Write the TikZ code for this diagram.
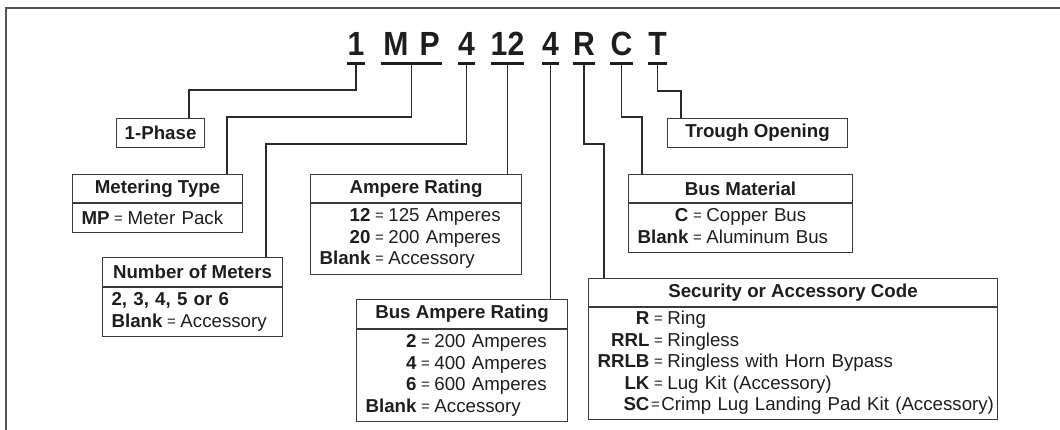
\documentclass[tikz,border=0pt]{standalone}
\usepackage{fontspec}
\setmainfont{Liberation Sans}
\usetikzlibrary{calc}
\definecolor{txt}{HTML}{1E1E1E}
\definecolor{boxc}{HTML}{3A3A3A}
\definecolor{linec}{HTML}{2A2A2A}
\definecolor{framec}{HTML}{555555}
\tikzset{
  hdr/.style={draw=boxc, line width=1.1pt, text=txt, inner sep=0pt, anchor=north west, align=center,
    font=\fontsize{18.7}{21.5}\selectfont\bfseries},
  bdy/.style={draw=boxc, line width=1.1pt, text=txt, inner xsep=9pt, inner ysep=0pt, anchor=north west, align=left,
    font=\fontsize{18.7}{21.5}\selectfont},
  ttl/.style={inner sep=0pt, text height=24pt, text depth=7pt, anchor=south, text=txt,
    font=\fontsize{33.5}{33.5}\selectfont\bfseries},
  ul/.style={line width=3pt, draw=txt},
  conn/.style={line width=1.1pt, draw=linec},
  frameline/.style={line width=1.4pt, draw=framec}
}
\newcommand{\ttxt}[1]{\scalebox{0.9}[1]{#1}}
\newcommand{\smeq}{\raisebox{1.2pt}{\fontsize{15}{15}\selectfont=}}
\newcommand{\eq}{\hspace{4.6pt}\smeq\hspace{4.6pt}}
\newcommand{\eqt}{\hspace{1.6pt}\smeq\hspace{1.6pt}}
\begin{document}
\begin{tikzpicture}[x=1pt,y=-1pt]
\clip (0,0) rectangle (1060,429);
\draw[frameline] (6,440) -- (6,8) -- (1070,8);

% title characters
\node[ttl, minimum width=18pt] (t1) at (356,63) {\ttxt{1}};
\node[ttl, minimum width=61pt] (tMP) at (411.5,63) {\ttxt{M\kern3pt\ P}};
\node[ttl, minimum width=17pt] (t4) at (466.5,63) {\ttxt{4}};
\node[ttl, minimum width=33pt] (t12) at (507.5,63) {\ttxt{12}};
\node[ttl, minimum width=17pt] (t4b) at (550.5,63) {\ttxt{4}};
\node[ttl, minimum width=22pt] (tR) at (584,63) {\ttxt{R}};
\node[ttl, minimum width=21pt] (tC) at (621.5,63) {\ttxt{C}};
\node[ttl, minimum width=19pt] (tT) at (657.5,63) {\ttxt{T}};
\foreach \n in {t1,tMP,t4,t12,t4b,tR,tC,tT}
  \draw[ul] (\n.south west) -- (\n.south east);

% boxes
\node[hdr, minimum width=88pt, minimum height=29pt] (oneph) at (116,118) {1-Phase};

\node[hdr, minimum width=170pt, minimum height=28pt] (mtH) at (72,174) {Metering Type};
\node[bdy, minimum width=170pt, text width=152pt, minimum height=29pt] (mtB) at (mtH.south west)
  {\textbf{MP}\eq Meter Pack};

\node[hdr, minimum width=180pt, minimum height=29pt] (nmH) at (102,257) {Number of Meters};
\node[bdy, minimum width=180pt, text width=162pt, minimum height=49pt] (nmB) at (nmH.south west)
  {\textbf{2, 3, 4, 5 or 6}\\\textbf{Blank}\eq Accessory};

\node[hdr, minimum width=211pt, minimum height=28pt] (arH) at (310,174) {Ampere Rating};
\node[bdy, minimum width=211pt, text width=193pt, minimum height=71pt] (arB) at (arH.south west)
  {\begin{tabular}{@{}r@{}l@{}}\textbf{12} & \eq 125 Amperes\\\textbf{20} & \eq 200 Amperes\\\textbf{Blank} & \eq Accessory\end{tabular}};

\node[hdr, minimum width=211pt, minimum height=29pt] (baH) at (356,299) {Bus Ampere Rating};
\node[bdy, minimum width=211pt, text width=193pt, minimum height=92pt] (baB) at (baH.south west)
  {\begin{tabular}{@{}r@{}l@{}}\textbf{2} & \eq 200 Amperes\\\textbf{4} & \eq 400 Amperes\\\textbf{6} & \eq 600 Amperes\\\textbf{Blank} & \eq Accessory\end{tabular}};

\node[hdr, minimum width=180pt, minimum height=29pt] (trough) at (667,118) {Trough Opening};

\node[hdr, minimum width=224pt, minimum height=28pt] (bmH) at (628,174) {Bus Material};
\node[bdy, minimum width=224pt, text width=206pt, minimum height=49pt] (bmB) at (bmH.south west)
  {\begin{tabular}{@{}r@{}l@{}}\textbf{C} & \eq Copper Bus\\\textbf{Blank} & \eq Aluminum Bus\end{tabular}};

\node[hdr, minimum width=409pt, minimum height=28pt] (scH) at (588,278) {Security or Accessory Code};
\node[bdy, minimum width=409pt, text width=391pt, minimum height=112pt] (scB) at (scH.south west)
  {\begin{tabular}{@{}r@{}l@{}}\textbf{R} & \eq Ring\\\textbf{RRL} & \eq Ringless\\\textbf{RRLB} & \eq Ringless with Horn Bypass\\\textbf{LK} & \eq Lug Kit (Accessory)\\\textbf{SC} & \eqt Crimp Lug Landing Pad Kit (Accessory)\end{tabular}};

% connectors
\draw[conn] (t1.south) -- ++(0,27) -| ([xshift=73pt]oneph.north west);
\draw[conn] (tMP.south) -- ++(0,54) -| ([xshift=155pt]mtH.north west);
\draw[conn] (t4.south) -- ++(0,81) -| ([xshift=164pt]nmH.north west);
\draw[conn] (t12.south) -- (t12.south |- arH.north);
\draw[conn] (t4b.south) -- (t4b.south |- baH.north);
\draw[conn] (tR.south) -- ++(0,81) -| ([xshift=16pt]scH.north west);
\draw[conn] (tC.south) -- ++(0,54) -| ([xshift=14pt]bmH.north west);
\draw[conn] (tT.south) -- ++(0,28) -| ([xshift=14pt]trough.north west);
\end{tikzpicture}
\end{document}
